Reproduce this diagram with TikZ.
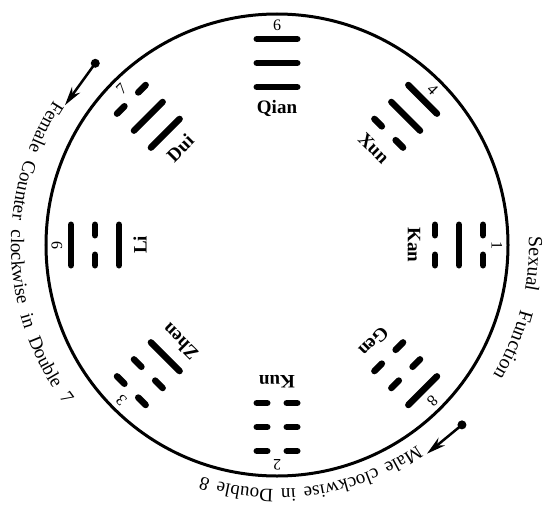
\documentclass[tikz,border=0pt]{standalone}
\usepackage{fontspec}
\setmainfont{Liberation Serif}
\usepackage{tikz}
\usetikzlibrary{arrows.meta, decorations.text}

\newcommand{\curvefont}{\fontsize{19}{19}\selectfont}
\newcommand{\sidefont}{\fontsize{20}{20}\selectfont}

\tikzset{
  yao/.style={line width=6.5pt, line cap=round},
  rim/.style={line width=3pt},
  guaname/.style={font=\bfseries\fontsize{19}{19}\selectfont, inner sep=0pt},
  guanum/.style={font=\fontsize{16}{16}\selectfont, inner sep=0pt},
  dotnode/.style={circle, fill, inner sep=0pt, minimum size=9pt},
  pointer/.style={line width=2.5pt, -{Stealth[length=19pt, width=10pt]}},
}

\begin{document}
\begin{tikzpicture}[x=1pt, y=1pt, >=Stealth]
    \useasboundingbox (-277,-261) rectangle (268,245);
    \coordinate (c) at (0,0);
    \draw[rim] (c) circle[radius=231];

    % the eight trigrams: angle / name / number / outer, middle, inner line
    \foreach \ang/\nm/\num/\a/\b/\c in {90/Qian/6/1/1/1, 45/Xun/4/1/1/0, 0/Kan/1/0/1/0,
        -45/Gen/8/1/0/0, -90/Kun/2/0/0/0, -135/Zhen/3/0/0/1, 180/Li/9/1/0/1, 135/Dui/7/0/1/1} {
      \begin{scope}[rotate=\ang-90]
        \foreach \r/\bit in {206/\a, 182/\b, 158/\c} {
          \ifnum\bit=1 \draw[yao] (-20.25,\r) -- (20.25,\r);
          \else \draw[yao] (-20.25,\r) -- (-9.75,\r) (9.75,\r) -- (20.25,\r); \fi
        }
        \node[guanum, rotate=\ang-90] (num-\nm) at (0,220) {\num};
        \node[guaname, rotate=\ang-90] (name-\nm) at (0,137) {\nm};
      \end{scope}
    }

    % arrows
    \node[dotnode] (fdot) at (135:257) {};
    \coordinate (ftip) at (146.6:254);
    \draw[pointer] (fdot.center) -- (ftip);
    \node[dotnode] (mdot) at (-44.2:258) {};
    \coordinate (mtip) at (-54.3:257);
    \draw[pointer] (mdot.center) -- (mtip);

    % curved texts
    \path[decorate, decoration={text along path, text align=fit to path stretching spaces,
        text={|\curvefont|Female Counter clockwise in Double 7}}]
        (147:266) arc[start angle=147, end angle=217, radius=266];
    \path[decorate, decoration={text along path, text align=fit to path stretching spaces,
        text={|\sidefont|Sexual Function}}]
        (2:252) arc[start angle=2, end angle=-31, radius=252];
    \path[decorate, decoration={text along path, text align=fit to path stretching spaces,
        text={|\curvefont|Male clockwise in Double 8}}]
        (-55:244) arc[start angle=-55, end angle=-108, radius=244];
\end{tikzpicture}
\end{document}
